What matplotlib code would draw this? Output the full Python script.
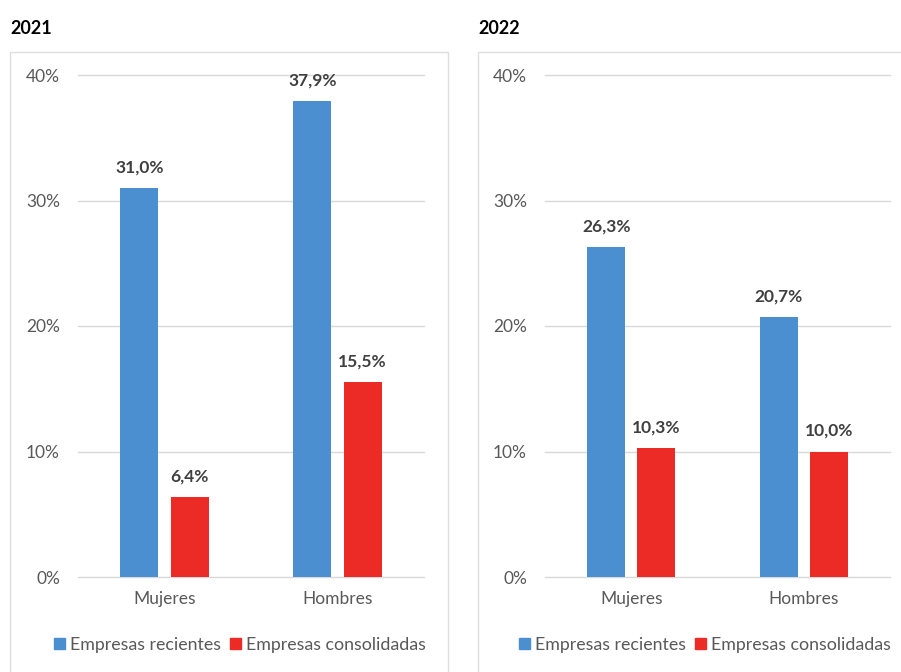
import matplotlib.pyplot as plt
from matplotlib.patches import Rectangle, Patch

plt.rcParams['font.family'] = ['Lato', 'DejaVu Sans']

# data
categorias = ["Mujeres", "Hombres"]
anios = ["2021", "2022"]
recientes = {"2021": [31.0, 37.9], "2022": [26.3, 20.7]}
consolidadas = {"2021": [6.4, 15.5], "2022": [10.3, 10.0]}
series = ["Empresas recientes", "Empresas consolidadas"]

azul = "#4b8fd0"
rojo = "#ec2b26"
gris_txt = "#595959"
gris_lbl = "#404040"
gris_grid = "#d9d9d9"

W, H = 901, 672
fig = plt.figure(figsize=(W / 100, H / 100), dpi=100)

# panel boxes, axes positions (pixels)
panels = [(10, 448, 78, 424), (478, 905, 545, 890)]
y_top, y_zero = 75, 577

for anio, (bx0, bx1, ax0, ax1) in zip(anios, panels):
    fig.patches.append(Rectangle((bx0 / W, -0.1), (bx1 - bx0) / W, 1.1 - 52 / H,
                                 transform=fig.transFigure, fill=False,
                                 edgecolor="#dedede", linewidth=1.0))
    fig.text(bx0 / W, 1 - 28 / H, anio, fontsize=13, fontweight="bold",
             color="black", ha="left", va="center")

    ax = fig.add_axes([ax0 / W, 1 - y_zero / H, (ax1 - ax0) / W, (y_zero - y_top) / H])
    x = range(len(categorias))
    w, off = 0.22, 0.145
    b1 = ax.bar([i - off for i in x], recientes[anio], width=w, color=azul, zorder=3)
    b2 = ax.bar([i + off for i in x], consolidadas[anio], width=w, color=rojo, zorder=3)
    for bars in (b1, b2):
        for r in bars:
            v = r.get_height()
            ax.annotate(f"{v:.1f}%".replace(".", ","),
                        (r.get_x() + r.get_width() / 2, v),
                        xytext=(0, 9), textcoords="offset points",
                        ha="center", va="bottom", fontsize=12.5,
                        fontweight="bold", color=gris_lbl)
    ax.set_xlim(-0.5, 1.5)
    ax.set_ylim(0, 40)
    ax.set_yticks([0, 10, 20, 30, 40])
    ax.set_yticklabels(["0%", "10%", "20%", "30%", "40%"])
    ax.set_xticks(list(x))
    ax.set_xticklabels(categorias)
    for s in ax.spines.values():
        s.set_visible(False)
    ax.grid(axis="y", color=gris_grid, linewidth=1.0, zorder=0)
    for t in ax.yaxis.get_gridlines():
        t.set_clip_on(False)
    ax.tick_params(axis="both", length=0, labelsize=12.5, colors=gris_txt)
    ax.tick_params(axis="y", pad=13)
    ax.tick_params(axis="x", pad=10)

    handles = [Patch(color=azul), Patch(color=rojo)]
    cx = 240 if anio == "2021" else 705
    fig.legend(handles, series, loc="center", bbox_to_anchor=(cx / W, 1 - 645 / H),
               ncol=2, frameon=False, fontsize=12.8, labelcolor=gris_txt,
               handlelength=0.6, handleheight=0.6, handletextpad=0.3,
               columnspacing=0.5)

fig.savefig("out.png", dpi=100, facecolor="white")
